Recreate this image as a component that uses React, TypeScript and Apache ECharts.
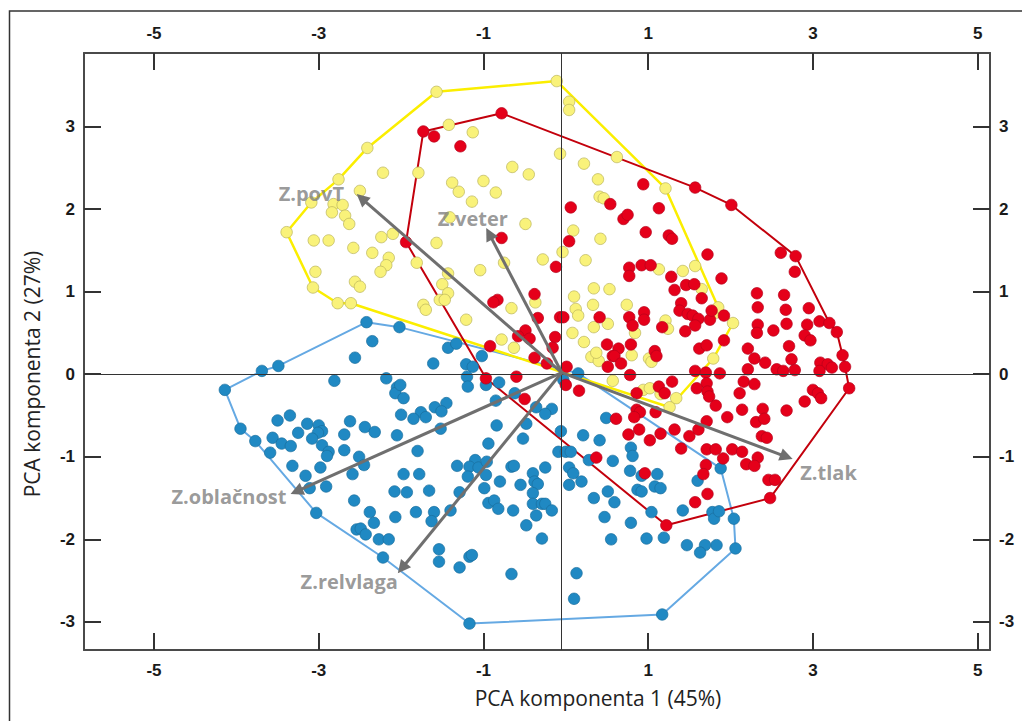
import React, { useEffect, useRef } from "react";
import * as echarts from "echarts";

const X_TICKS = [-5, -3, -1, 1, 3, 5];
const Y_TICKS = [-3, -2, -1, 0, 1, 2, 3];
const X_MIN = -5.85;
const X_MAX = 5.15;
const Y_MIN = -3.34;
const Y_MAX = 3.89;
const ORIGIN = [-0.05, 0.02];
const ZERO_X = -0.05;
const ZERO_Y = 0;

const X_TITLE = "PCA komponenta 1 (45%)";
const Y_TITLE = "PCA komponenta 2 (27%)";

// convex hull vertices (drawn as closed lines; vertices are also observations)
const yellowHull = [
  [-0.11, 3.55], [1.21, 2.25], [1.85, 0.81], [2.03, 0.62], [1.79, 0.19], [1.26, -0.4],
  [-2.61, 0.86], [-2.77, 0.86], [-3.07, 1.05], [-3.39, 1.72], [-3.09, 2.08], [-2.76, 2.36],
  [-2.41, 2.74], [-1.57, 3.42],
];
const redHull = [
  [-0.78, 3.16], [1.57, 2.26], [2.01, 2.05], [2.79, 1.43], [3.2, 0.62], [3.29, 0.51],
  [3.36, 0.23], [3.39, 0.09], [3.44, -0.17], [2.48, -1.5], [1.22, -1.83], [-0.97, -0.05],
  [-1.94, 1.6], [-1.73, 2.94],
];
const blueHull = [
  [-2.42, 0.63], [-2.02, 0.57], [0.15, 0.01], [1.88, -1.14], [2.04, -1.75], [2.06, -2.11],
  [1.17, -2.91], [-1.17, -3.02], [-2.22, -2.22], [-3.03, -1.68], [-3.77, -0.81], [-3.95, -0.66],
  [-4.14, -0.19], [-3.69, 0.04], [-3.49, 0.1],
];

const yellowPoints = [
  [-2.22, 2.44], [-2.5, 2.22], [-2.82, 2.06], [-2.71, 2.05], [-2.84, 1.96], [-2.68, 1.92],
  [-2.63, 1.82], [-3.06, 1.62], [-2.88, 1.62], [-2.58, 1.53], [-2.24, 1.66], [-2.1, 1.7],
  [-2.35, 1.47], [-2.15, 1.41], [-2.18, 1.32], [-2.25, 1.24], [-3.04, 1.24], [-2.56, 1.12],
  [-2.5, 1.06], [-1.81, 1.35],
  [0.04, 3.3], [0.04, 3.2], [-1.42, 3.02], [-1.13, 2.93], [-1.79, 2.44], [-0.07, 2.67],
  [-0.65, 2.51], [-0.45, 2.42], [-1.38, 2.32], [-1.3, 2.21], [-1.0, 2.34], [-0.85, 2.2],
  [-1.14, 2.09], [0.22, 2.55], [0.39, 2.36], [0.41, 2.15], [0.46, 2.13], [-1.41, 1.9],
  [-0.49, 1.82], [-1.57, 1.59], [0.09, 1.74], [0.42, 1.64], [-0.04, 1.48], [-0.28, 1.39],
  [0.24, 1.38], [-0.75, 1.35], [-1.04, 1.26], [-1.43, 1.22], [-1.5, 1.09], [-1.43, 0.98],
  [-1.53, 0.9], [-1.47, 0.9], [-1.73, 0.84], [-1.7, 0.78], [-1.21, 0.66], [-0.66, 0.8],
  [-0.37, 0.87], [0.1, 0.94], [0.34, 1.04], [0.53, 1.03], [0.12, 0.79], [0.15, 0.71],
  [0.33, 0.84], [0.34, 0.57], [0.51, 0.61], [0.08, 0.5], [-0.78, 0.42], [-0.63, 0.32],
  [0.22, 0.39], [0.31, 0.21], [0.4, 0.16], [0.37, 0.26],
  [0.62, 2.63], [1.13, 1.27], [1.42, 1.25], [1.57, 1.31], [1.65, 1.03], [0.74, 0.84],
  [1.81, 0.74], [1.21, 0.65], [1.24, 0.55], [0.84, 0.5], [0.8, 0.23], [1.01, 0.19], [1.04, 0.15],
  [0.57, -0.08], [0.94, -0.19], [1.02, -0.17], [1.15, -0.24], [1.34, -0.29],
];

const redPoints = [
  [-1.6, 2.88], [-1.28, 2.76], [-0.78, 1.65], [0.06, 2.02], [0.54, 2.06], [0.04, 1.61],
  [-0.12, 1.3], [-0.38, 0.97], [-0.83, 0.9], [-0.88, 0.87], [-0.34, 0.68], [-0.07, 0.69],
  [-0.03, 0.69], [-0.49, 0.53], [-0.44, 0.43], [-0.58, 0.46], [-0.13, 0.45], [-0.92, 0.34],
  [-0.16, 0.32], [-0.38, 0.2], [-0.23, 0.13], [0.01, 0.09], [0.41, 0.69], [0.5, 0.36],
  [0.57, 0.22], [0.51, 0.09], [-0.6, -0.03],
  [0.94, 2.3], [1.13, 2.01], [0.7, 1.88], [0.75, 1.93], [0.97, 1.72], [1.25, 1.68], [1.29, 1.64],
  [1.72, 1.45], [2.61, 1.47], [2.78, 1.24], [0.77, 1.29], [0.77, 1.19], [0.92, 1.32], [1.03, 1.32],
  [1.89, 1.16], [1.28, 1.18], [1.32, 1.02], [1.46, 1.08], [1.56, 1.09], [1.65, 0.92], [2.32, 0.98],
  [2.65, 0.96], [2.33, 0.81], [2.67, 0.78], [2.95, 0.8], [1.4, 0.86], [1.38, 0.77], [1.48, 0.73],
  [1.54, 0.71], [1.61, 0.67], [1.57, 0.59], [1.75, 0.66], [1.77, 0.77], [1.92, 0.71], [0.95, 0.75],
  [0.95, 0.66], [0.77, 0.69], [0.81, 0.59], [1.17, 0.57], [1.45, 0.52], [2.33, 0.6], [2.32, 0.5],
  [2.52, 0.53], [2.68, 0.61], [2.93, 0.6], [3.08, 0.64], [2.9, 0.47], [2.97, 0.41], [1.92, 0.41],
  [1.62, 0.31], [1.71, 0.35], [2.71, 0.34], [2.21, 0.31], [0.79, 0.36], [0.64, 0.31], [0.59, 0.22],
  [0.67, 0.13], [1.08, 0.28], [1.1, 0.22], [2.29, 0.19], [2.42, 0.14], [2.74, 0.18], [3.09, 0.14],
  [3.18, 0.12], [3.23, 0.08], [0.78, -0.01], [1.57, 0.04], [1.7, 0.02], [1.87, 0.01],
  [2.21, 0.06], [2.56, 0.06], [2.64, 0.04], [2.78, 0.05], [3.08, 0.04],
  [1.71, -0.11], [1.59, -0.17], [1.72, -0.21], [1.74, -0.27], [1.82, -0.38], [1.29, -0.09],
  [1.13, -0.15], [1.2, -0.23], [0.86, -0.23], [0.86, -0.43], [0.9, -0.46], [0.83, -0.52],
  [1.09, -0.46], [0.89, -0.67], [0.76, -0.73], [1.02, -0.8], [1.15, -0.72], [1.32, -0.67],
  [1.5, -0.75], [1.61, -0.67], [1.71, -0.57], [1.96, -0.52], [2.14, -0.43], [2.16, -0.09],
  [2.29, -0.12], [2.11, -0.23], [2.39, -0.42], [2.31, -0.58], [2.41, -0.54], [2.38, -0.75],
  [2.44, -0.77], [2.68, -0.44], [2.9, -0.33], [3.0, -0.19], [3.06, -0.23], [3.1, -0.29],
  [1.4, -0.9], [1.71, -0.91], [1.82, -0.91], [2.02, -0.91], [2.14, -0.94], [2.33, -1.01],
  [2.19, -1.09], [2.29, -1.11], [1.91, -1.02], [1.7, -1.1], [1.67, -1.21], [0.96, -1.2],
  [1.72, -1.45], [1.57, -1.55], [2.46, -1.28], [2.54, -1.28],
  [-0.5, -0.3], [0.0, -0.13], [0.16, -0.2], [0.61, -0.54], [0.37, -1.01],
];

const bluePoints = [
  [-1.43, 0.32], [-1.33, 0.37], [-1.61, 0.13], [-1.21, 0.12], [-1.13, 0.09], [-1.02, 0.22],
  [-1.2, -0.03], [-2.35, 0.4], [-2.56, 0.2], [-2.81, -0.08], [-2.18, -0.05], [-2.05, -0.16],
  [-2.07, -0.23],
  [-3.5, -0.56], [-3.35, -0.5], [-3.14, -0.6], [-3.0, -0.62], [-2.96, -0.69], [-3.01, -0.71],
  [-3.25, -0.71], [-3.56, -0.77], [-3.45, -0.84], [-3.34, -0.87], [-3.59, -0.95], [-3.08, -0.78],
  [-2.96, -0.86], [-2.88, -0.94], [-2.9, -0.99], [-2.69, -0.73], [-2.69, -0.92], [-2.62, -0.57],
  [-2.44, -0.64], [-2.32, -0.7], [-2.05, -0.74], [-2.0, -0.49], [-2.51, -1.0], [-2.45, -1.1],
  [-3.32, -1.11], [-3.16, -1.23], [-2.98, -1.13], [-2.91, -1.36], [-3.11, -1.38], [-2.59, -1.21],
  [-2.08, -1.42], [-2.57, -1.53], [-2.38, -1.67], [-2.33, -1.8], [-2.07, -1.73], [-2.54, -1.88],
  [-2.49, -1.87], [-2.43, -1.94], [-2.27, -2.0], [-2.15, -2.0],
  [-1.19, -0.15], [-0.97, -0.13], [-0.81, -0.1], [-0.62, -0.23], [-0.03, -0.07], [-1.97, -0.29],
  [-2.01, -0.13], [-1.45, -0.35], [-1.59, -0.4], [-1.51, -0.45], [-1.76, -0.46], [-1.7, -0.52],
  [-1.85, -0.54], [-1.52, -0.66], [-0.85, -0.32], [-0.36, -0.4], [-0.17, -0.42], [-0.25, -0.48],
  [-0.48, -0.6], [-0.84, -0.62], [-0.06, -0.69], [-0.52, -0.78], [0.21, -0.74], [-0.94, -0.84],
  [-1.8, -0.93], [-0.09, -0.94], [0.0, -0.94], [0.06, -0.94], [0.28, -1.04], [-1.1, -1.04],
  [-1.17, -1.12], [-1.06, -1.13], [-0.96, -1.06], [-1.32, -1.11], [-1.19, -1.24], [-0.97, -1.22],
  [-0.66, -1.12], [-0.63, -1.11], [-0.25, -1.13], [-1.97, -1.21], [-1.78, -1.21], [0.04, -1.13],
  [0.09, -1.2], [-0.4, -1.2], [-0.38, -1.3], [-0.34, -1.33], [0.04, -1.34], [0.19, -1.3],
  [-0.8, -1.3], [-0.55, -1.34], [-0.99, -1.38], [-1.93, -1.43], [-1.66, -1.41], [-1.29, -1.43],
  [-0.4, -1.44], [-0.4, -1.57], [-0.29, -1.57], [-0.25, -1.57], [-0.17, -1.65], [-0.36, -1.71],
  [-0.94, -1.56], [-0.87, -1.53], [-0.82, -1.63], [-0.64, -1.65], [-1.82, -1.67], [-1.6, -1.67],
  [-1.63, -1.78], [-1.4, -1.65], [-0.48, -1.83], [0.34, -1.5], [-0.29, -1.99], [-1.54, -2.12],
  [-1.54, -2.27], [-1.29, -2.34], [-1.17, -2.21], [-1.14, -2.19], [-0.66, -2.42], [0.13, -2.41],
  [0.1, -2.72],
  [0.49, -0.53], [0.41, -0.8], [0.57, -1.05], [0.79, -0.89], [0.81, -0.99], [0.78, -1.17],
  [0.92, -1.23], [1.11, -1.21], [1.08, -1.36], [1.15, -1.38], [0.87, -1.4], [0.92, -1.42],
  [0.51, -1.42], [0.59, -1.55], [0.47, -1.73], [1.04, -1.67], [1.42, -1.65], [1.6, -1.29],
  [1.78, -1.67], [1.8, -1.75], [1.86, -1.66], [0.79, -1.8], [0.55, -2.0], [0.98, -1.99],
  [1.19, -1.98], [1.47, -2.07], [1.69, -2.07], [1.83, -2.07], [1.63, -2.16],
];

const loadingNames = ["Z.povT", "Z.veter", "Z.tlak", "Z.oblačnost", "Z.relvlaga"];
const loadingTips = [[-2.48, 2.13], [-0.93, 1.7], [2.68, -1.0], [-3.27, -1.42], [-1.99, -2.35]];
const loadingLabelPos = [[-3.09, 2.19], [-1.13, 1.88], [3.19, -1.19], [-4.09, -1.48], [-2.63, -2.51]];

const TICK_FONT = "'Liberation Sans', Arial, sans-serif";
const TITLE_FONT = "'Open Sans', 'Noto Sans', sans-serif";

function makeXAxis(position: string, margin: number) {
  return {
    type: "value",
    position,
    min: X_MIN,
    max: X_MAX,
    axisLine: { show: true, onZero: false, lineStyle: { color: "#4a4a4a", width: 2 } },
    axisTick: { show: true, inside: true, length: 17, customValues: X_TICKS, lineStyle: { color: "#333", width: 2 } },
    axisLabel: { show: true, customValues: X_TICKS, margin, fontFamily: TICK_FONT, fontWeight: "bold", fontSize: 17, color: "#1a1a1a" },
    splitLine: { show: false },
  };
}
function makeYAxis(position: string, margin: number) {
  return {
    type: "value",
    position,
    min: Y_MIN,
    max: Y_MAX,
    axisLine: { show: true, onZero: false, lineStyle: { color: "#4a4a4a", width: 2 } },
    axisTick: { show: true, inside: true, length: 17, customValues: Y_TICKS, lineStyle: { color: "#333", width: 2 } },
    axisLabel: { show: true, customValues: Y_TICKS, margin, fontFamily: TICK_FONT, fontWeight: "bold", fontSize: 17, color: "#1a1a1a" },
    splitLine: { show: false },
  };
}

function closed(h: number[][]) {
  return [...h, h[0]];
}

export default function App() {
  const ref = useRef<HTMLDivElement>(null);
  useEffect(() => {
    document.body.style.margin = "0";
    const chart = echarts.init(ref.current!, undefined, { renderer: "svg" });
    const hullSeries = (data: number[][], color: string, width: number, withZero: boolean) => ({
      type: "line",
      data: closed(data),
      showSymbol: false,
      symbol: "none",
      silent: true,
      lineStyle: { color, width },
      z: 2,
      markLine: withZero
        ? {
            silent: true,
            symbol: ["none", "none"],
            label: { show: false },
            lineStyle: { color: "#333", width: 1, type: "solid" },
            data: [{ xAxis: ZERO_X }, { yAxis: ZERO_Y }],
          }
        : undefined,
    });
    const scatter = (data: number[][], color: string, border: string) => ({
      type: "scatter",
      data,
      symbolSize: 11.5,
      silent: true,
      itemStyle: { color, borderColor: border, borderWidth: 0.7, opacity: 1 },
      z: 3,
    });
    chart.setOption({
      animation: false,
      backgroundColor: "#ffffff",
      grid: { left: 84, top: 53, width: 906, height: 597, containLabel: false, outerBoundsMode: "none" },
      xAxis: [makeXAxis("bottom", 12), makeXAxis("top", 11)],
      yAxis: [makeYAxis("left", 9), makeYAxis("right", 9)],
      graphic: [
        {
          type: "rect",
          silent: true,
          shape: { x: 9.5, y: 11, width: 1040, height: 740 },
          style: { fill: "none", stroke: "#333", lineWidth: 1.5 },
        },
        {
          type: "text",
          x: 598,
          y: 698,
          silent: true,
          style: { text: X_TITLE, font: `21px ${TITLE_FONT}`, fill: "#222", align: "center", verticalAlign: "middle" },
        },
        {
          type: "text",
          x: 32,
          y: 374,
          rotation: Math.PI / 2,
          silent: true,
          style: { text: Y_TITLE, font: `21px ${TITLE_FONT}`, fill: "#222", align: "center", verticalAlign: "middle" },
        },
      ],
      series: [
        hullSeries(blueHull, "#65a9e3", 2, true),
        hullSeries(yellowHull, "#fbee00", 2.5, false),
        hullSeries(redHull, "#c3000c", 2, false),
        scatter([...bluePoints, ...blueHull], "#2089c3", "#1a6f9e"),
        scatter([...yellowPoints, ...yellowHull], "#f9f27a", "#b9b35a"),
        scatter([...redPoints, ...redHull], "#e5001a", "#b5001a"),
        {
          type: "lines",
          coordinateSystem: "cartesian2d",
          silent: true,
          z: 5,
          symbol: ["none", "triangle"],
          symbolSize: 13,
          lineStyle: { color: "#6f6f6f", width: 3, opacity: 1 },
          data: loadingTips.map((t) => ({ coords: [ORIGIN, t] })),
        },
        {
          type: "scatter",
          symbolSize: 0,
          silent: true,
          z: 6,
          data: loadingNames.map((n, i) => ({ name: n, value: loadingLabelPos[i] })),
          label: {
            show: true,
            position: "inside",
            formatter: "{b}",
            color: "#7f7f7f",
            fontFamily: TITLE_FONT,
            fontWeight: "bold",
            fontSize: 20,
          },
        },
      ],
    });
    return () => chart.dispose();
  }, []);
  return <div ref={ref} style={{ position: "fixed", left: 0, top: 0, width: 1022, height: 721 }} />;
}
